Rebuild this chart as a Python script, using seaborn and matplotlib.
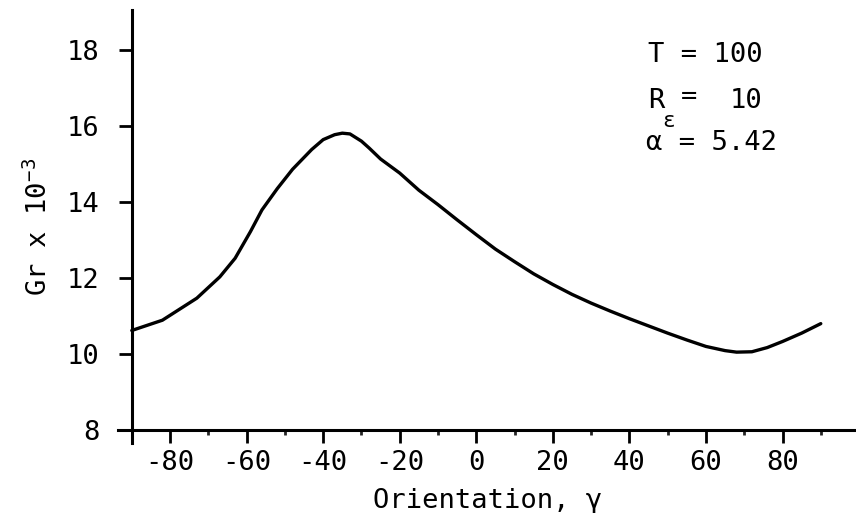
import matplotlib
matplotlib.use("Agg")
import matplotlib.pyplot as plt
import seaborn as sns
import pandas as pd

# Data
gamma = [-90, -82, -73, -67, -63, -59, -56, -52, -48, -43, -40, -37, -35, -33,
         -30, -28, -25, -20, -15, -10, -5, 0, 5, 10, 15, 20, 25, 30, 35, 40, 45,
         50, 55, 60, 65, 68, 72, 76, 80, 85, 90]
gr = [10.62, 10.89, 11.47, 12.03, 12.52, 13.22, 13.79, 14.35, 14.86, 15.38,
      15.64, 15.77, 15.81, 15.79, 15.60, 15.42, 15.13, 14.76, 14.31, 13.93, 13.53,
      13.14, 12.76, 12.43, 12.11, 11.83, 11.57, 11.34, 11.13, 10.93, 10.74,
      10.55, 10.37, 10.20, 10.09, 10.05, 10.06, 10.17, 10.33, 10.55, 10.80]
x_major = [-80, -60, -40, -20, 0, 20, 40, 60, 80]
x_minor = [-70, -50, -30, -10, 10, 30, 50, 70, 90]
y_major = [8, 10, 12, 14, 16, 18]

sns.set_style("white")
plt.rcParams["font.family"] = ["DejaVu Sans Mono", "DejaVu Sans"]
plt.rcParams["axes.unicode_minus"] = False
plt.rcParams["mathtext.default"] = "regular"

W, H = 856, 513
fig = plt.figure(figsize=(W / 100, H / 100), dpi=100)
ax = fig.add_axes([118 / W, 1 - 443 / H, 738 / W, 433 / H])

df = pd.DataFrame({"gamma": gamma, "gr": gr})
sns.lineplot(data=df, x="gamma", y="gr", color="black", lw=2.4, ax=ax)

ax.set_xlim(-93.6, 99.2)
ax.set_ylim(7.66, 19.05)
for s in ["top", "right"]:
    ax.spines[s].set_visible(False)
ax.spines["left"].set_position(("data", -90))
ax.spines["bottom"].set_position(("data", 8))
for s in ["left", "bottom"]:
    ax.spines[s].set_linewidth(2.2)
    ax.spines[s].set_color("black")

ax.set_xticks(x_major)
ax.set_xticks(x_minor, minor=True)
ax.set_yticks(y_major)
ax.tick_params(axis="x", which="major", bottom=True, direction="out", length=9.5,
               width=2, pad=5, labelsize=19.5, colors="black")
ax.tick_params(axis="x", which="minor", bottom=True, direction="out", length=3.8,
               width=2)
ax.tick_params(axis="y", which="major", left=True, direction="out", length=9.5,
               width=2, pad=14, labelsize=19.5, colors="black")

ax.set_xlabel("Orientation, γ", fontsize=19.5, color="black")
ax.xaxis.set_label_coords(0.501, -0.104)
ax.set_ylabel(r"Gr x 10$^{-3}$", fontsize=19.5, color="black")
ax.yaxis.set_label_coords(-0.088, 0.5)


def ftext(px, py, s, **kw):
    fig.text(px / W, 1 - py / H, s, va="baseline", ha="left", color="black", **kw)


ftext(648, 62, "T = 100", fontsize=19.5)
ftext(648, 108, "R", fontsize=19.5)
ftext(662, 127, "ε", fontsize=15)
ftext(681, 104, "=", fontsize=19.5)
ftext(730, 108, "10", fontsize=19.5)
ftext(646, 150, "α = 5.42", fontsize=19.5)

fig.savefig("out.png", dpi=100)
